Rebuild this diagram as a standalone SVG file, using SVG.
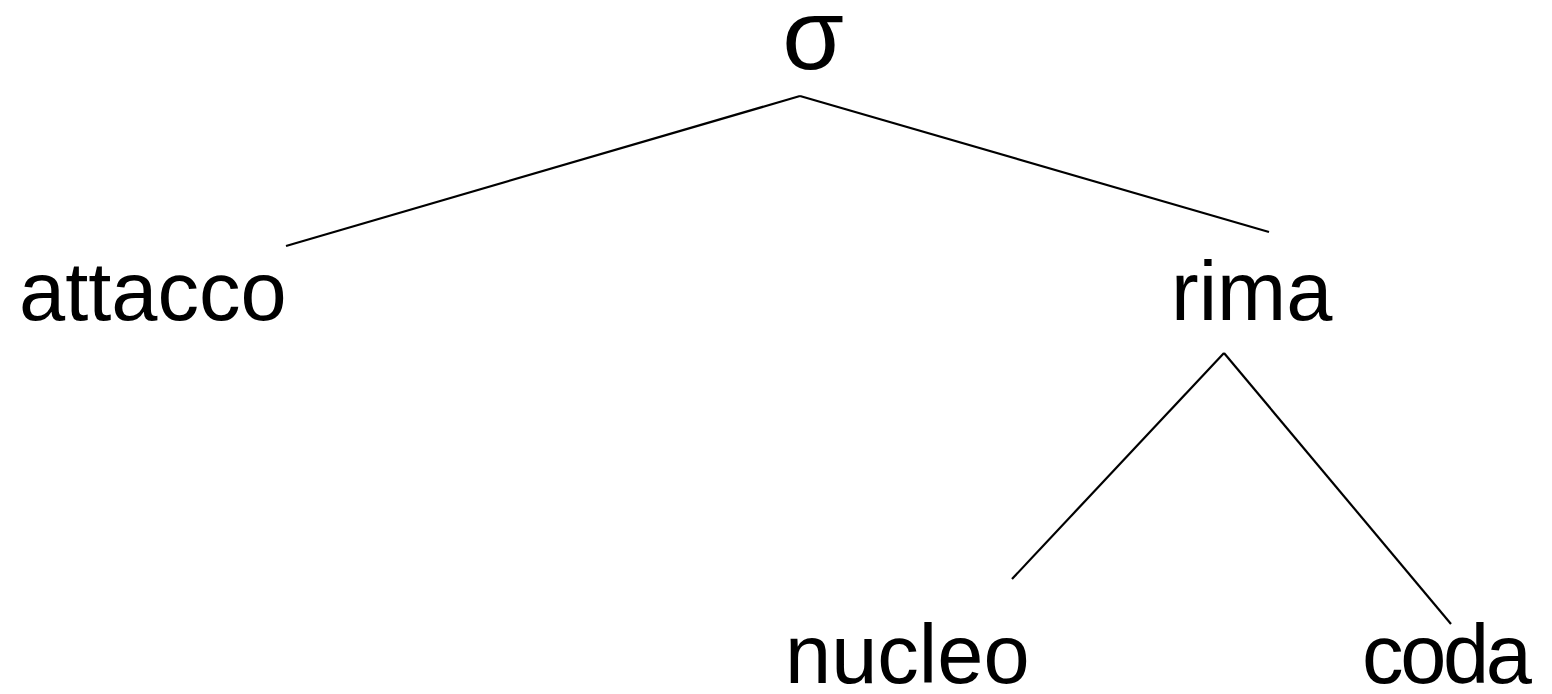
<svg xmlns="http://www.w3.org/2000/svg" width="1552" height="694" viewBox="0 0 1552 694">
<style>
text{font-family:"Liberation Sans",Arial,sans-serif;font-size:83px;fill:#000}
.e{stroke:#000;stroke-width:2.2;fill:none}
</style>
<rect width="1552" height="694" fill="#fff"/>
<g id="connectors">
<line class="e" x1="800" y1="96" x2="286" y2="246"/>
<line class="e" x1="800" y1="96" x2="1269" y2="232"/>
<line class="e" x1="1224" y1="353" x2="1012" y2="579"/>
<line class="e" x1="1224" y1="353" x2="1451" y2="624"/>
</g>
<g id="sigma"><text x="813" y="69" text-anchor="middle" style="font-size:100px">σ</text></g>
<g id="attacco"><text x="19" y="320">attacco</text></g>
<g id="rima"><text x="1171" y="320">rima</text></g>
<g id="nucleo"><text x="785" y="683">nucleo</text></g>
<g id="coda"><text x="1362" y="683" textLength="170">coda</text></g>
</svg>
